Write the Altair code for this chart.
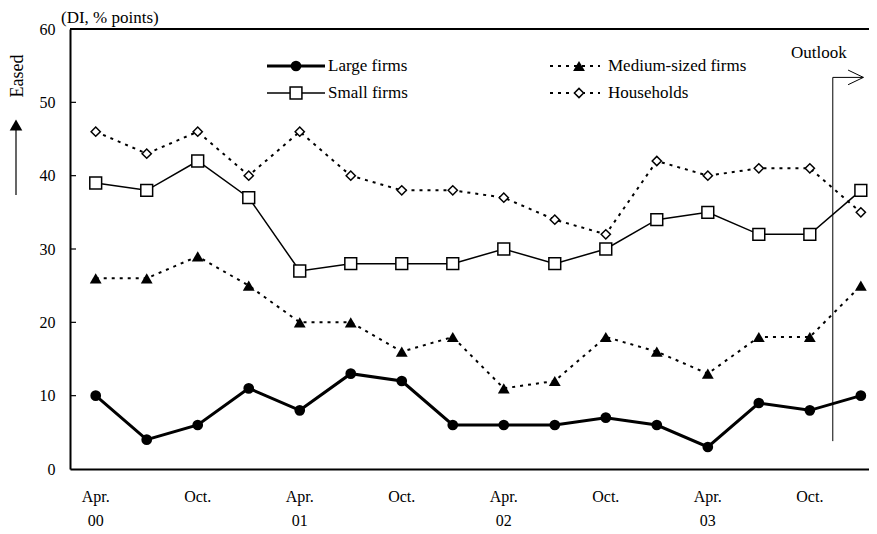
import altair as alt
import pandas as pd

# ---- data ----
periods = ["Apr.00", "Jul.00", "Oct.00", "Jan.01", "Apr.01", "Jul.01", "Oct.01", "Jan.02",
           "Apr.02", "Jul.02", "Oct.02", "Jan.03", "Apr.03", "Jul.03", "Oct.03", "Jan.04"]
large = [10, 4, 6, 11, 8, 13, 12, 6, 6, 6, 7, 6, 3, 9, 8, 10]
medium = [26, 26, 29, 25, 20, 20, 16, 18, 11, 12, 18, 16, 13, 18, 18, 25]
small = [39, 38, 42, 37, 27, 28, 28, 28, 30, 28, 30, 34, 35, 32, 32, 38]
households = [46, 43, 46, 40, 46, 40, 38, 38, 37, 34, 32, 42, 40, 41, 41, 35]

month_labels = ["Apr.", "Oct.", "Apr.", "Oct.", "Apr.", "Oct.", "Apr.", "Oct."]
month_pos = [0, 2, 4, 6, 8, 10, 12, 14]
year_labels = ["00", "01", "02", "03"]
year_pos = [0, 4, 8, 12]
y_ticks = [0, 10, 20, 30, 40, 50, 60]

FONT = "Liberation Serif"
W, H = 799, 440

xscale = alt.Scale(domain=[-0.504, 15.16], nice=False, zero=False)
yscale = alt.Scale(domain=[0, 60], nice=False, zero=False)
xaxis = alt.Axis(labels=False, ticks=False, grid=False, title=None,
                 domainColor="black", domainWidth=2)
yaxis = alt.Axis(values=y_ticks, ticks=False, grid=False, title=None,
                 labelFont=FONT, labelFontSize=16, labelColor="black", labelPadding=15,
                 domainColor="black", domainWidth=2)

CIRCLE = dict(shape="circle", filled=True, color="black", size=115)
SQUARE = dict(shape="square", filled=True, fill="white", stroke="black", strokeWidth=1.5, size=140)
TRI = dict(shape="triangle-up", filled=True, color="black", size=140)
DIAM = dict(shape="diamond", filled=True, fill="white", stroke="black", strokeWidth=1.5, size=85)


def X(f):
    return alt.X(f, scale=xscale, axis=xaxis)


def Y(f):
    return alt.Y(f, scale=yscale, axis=yaxis)


def series_layers(vals, line_kw, point_kw):
    df = pd.DataFrame({"i": list(range(len(vals))), "period": periods, "v": vals})
    line = alt.Chart(df).mark_line(color="black", **line_kw).encode(x=X("i:Q"), y=Y("v:Q"))
    pts = alt.Chart(df).mark_point(opacity=1, **point_kw).encode(x=X("i:Q"), y=Y("v:Q"))
    return line, pts


l_large, p_large = series_layers(large, dict(strokeWidth=3), CIRCLE)
l_small, p_small = series_layers(small, dict(strokeWidth=1.5), SQUARE)
l_med, p_med = series_layers(medium, dict(strokeWidth=2, strokeDash=[3, 5]), TRI)
l_hh, p_hh = series_layers(households, dict(strokeWidth=2, strokeDash=[3, 5]), DIAM)

# inward y ticks
ticks_df = pd.DataFrame({"v": [10, 20, 30, 40, 50]})
ticks = alt.Chart(ticks_df).mark_rule(color="black", strokeWidth=1.2).encode(
    x=alt.value(0), x2=alt.value(6), y=Y("v:Q"))

# top border
top = alt.Chart(pd.DataFrame({"a": [0]})).mark_rule(color="black", strokeWidth=2).encode(
    x=alt.value(0), x2=alt.value(W), y=alt.value(0))

# x labels
mdf = pd.DataFrame({"i": month_pos, "t": month_labels})
ydf = pd.DataFrame({"i": year_pos, "t": year_labels})
mtext = alt.Chart(mdf).mark_text(font=FONT, fontSize=16, color="black", baseline="middle").encode(
    x=X("i:Q"), y=alt.value(468), text="t:N")
ytext = alt.Chart(ydf).mark_text(font=FONT, fontSize=16, color="black", baseline="alphabetic").encode(
    x=X("i:Q"), y=alt.value(497), text="t:N")

# outlook annotation (data units)
out_v = pd.DataFrame({"x": [14.45], "y": [3.8], "y2": [53.4]})
out_h = pd.DataFrame({"x": [14.45], "x2": [15.05], "y": [53.4]})
out_a = pd.DataFrame({"x": [14.75, 14.75], "x2": [15.05, 15.05], "y": [54.4, 52.4], "y2": [53.4, 53.4]})
ov = alt.Chart(out_v).mark_rule(color="black", strokeWidth=1).encode(
    x=X("x:Q"), y=Y("y:Q"), y2="y2:Q")
oh = alt.Chart(out_h).mark_rule(color="black", strokeWidth=1).encode(
    x=X("x:Q"), x2="x2:Q", y=Y("y:Q"))
oa = alt.Chart(out_a).mark_rule(color="black", strokeWidth=1).encode(
    x=X("x:Q"), x2="x2:Q", y=Y("y:Q"), y2="y2:Q")
otext = alt.Chart(pd.DataFrame({"t": ["Outlook"]})).mark_text(
    font=FONT, fontSize=17, color="black", align="left", baseline="middle").encode(
    x=alt.value(721), y=alt.value(24), text="t:N")

# titles / left arrow
ditext = alt.Chart(pd.DataFrame({"t": ["(DI, % points)"]})).mark_text(
    font=FONT, fontSize=17, color="black", align="left", baseline="alphabetic").encode(
    x=alt.value(-9), y=alt.value(-6), text="t:N")
eased = alt.Chart(pd.DataFrame({"t": ["Eased"]})).mark_text(
    font=FONT, fontSize=18, color="black", angle=270, align="center", baseline="middle").encode(
    x=alt.value(-52), y=alt.value(47), text="t:N")
shaft = alt.Chart(pd.DataFrame({"a": [0]})).mark_rule(color="black", strokeWidth=1.2).encode(
    x=alt.value(-54), y=alt.value(166), y2=alt.value(100))
head = alt.Chart(pd.DataFrame({"a": [0]})).mark_point(
    shape="triangle-up", filled=True, color="black", size=160, opacity=1).encode(
    x=alt.value(-54), y=alt.value(96))

# manual legend (pixel positions)
leg_lines = pd.DataFrame({
    "x": [197, 197, 480, 480], "x2": [255, 255, 530, 530], "y": [37, 64, 37, 64]})
leg_pts = pd.DataFrame({"x": [226, 226, 509, 509], "y": [37, 64, 37, 64]})


def pxX(f):
    return alt.X(f, scale=None, axis=None)


def pxY(f):
    return alt.Y(f, scale=None, axis=None)


lg_large = alt.Chart(leg_lines.iloc[[0]]).mark_rule(color="black", strokeWidth=3).encode(
    x=pxX("x:Q"), x2="x2:Q", y=pxY("y:Q"))
lg_small = alt.Chart(leg_lines.iloc[[1]]).mark_rule(color="black", strokeWidth=1.5).encode(
    x=pxX("x:Q"), x2="x2:Q", y=pxY("y:Q"))
lg_dash = alt.Chart(leg_lines.iloc[[2, 3]]).mark_rule(color="black", strokeWidth=2, strokeDash=[3, 5]).encode(
    x=pxX("x:Q"), x2="x2:Q", y=pxY("y:Q"))
lp_large = alt.Chart(leg_pts.iloc[[0]]).mark_point(opacity=1, **CIRCLE).encode(x=pxX("x:Q"), y=pxY("y:Q"))
lp_small = alt.Chart(leg_pts.iloc[[1]]).mark_point(opacity=1, **SQUARE).encode(x=pxX("x:Q"), y=pxY("y:Q"))
lp_med = alt.Chart(leg_pts.iloc[[2]]).mark_point(opacity=1, **TRI).encode(x=pxX("x:Q"), y=pxY("y:Q"))
lp_hh = alt.Chart(leg_pts.iloc[[3]]).mark_point(opacity=1, **DIAM).encode(x=pxX("x:Q"), y=pxY("y:Q"))
leg_text = pd.DataFrame({"x": [258, 258, 538, 538], "y": [37, 64, 37, 64],
                         "t": ["Large firms", "Small firms", "Medium-sized firms", "Households"]})
lg_text = alt.Chart(leg_text).mark_text(font=FONT, fontSize=17, color="black", align="left",
                                        baseline="middle").encode(x=pxX("x:Q"), y=pxY("y:Q"), text="t:N")

chart = alt.layer(
    l_large, ticks, top, l_hh, l_med, l_small,
    p_hh, p_med, p_small, p_large,
    mtext, ytext, ov, oh, oa, otext, ditext, eased, shaft, head,
    lg_large, lg_small, lg_dash, lp_large, lp_small, lp_med, lp_hh, lg_text,
).properties(
    width=W, height=H,
    autosize=alt.AutoSizeParams(type="none"),
    padding={"left": 62, "top": 21, "right": 0, "bottom": 62},
).configure_view(stroke=None).configure(background="white")

chart.save("out.html", embed_options={"renderer": "svg", "actions": False})
